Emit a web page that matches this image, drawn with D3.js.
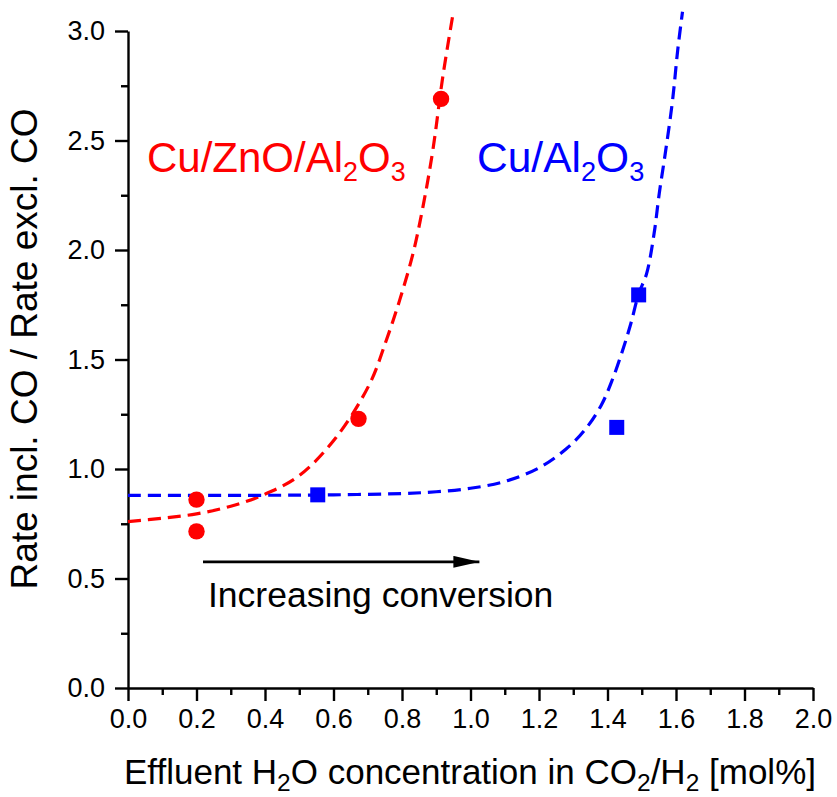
<!DOCTYPE html>
<html>
<head>
<meta charset="utf-8">
<title>Rate ratio vs effluent H2O</title>
<script src="https://d3js.org/d3.v7.min.js"></script>
<style>
  body { margin: 0; background: #fff; }
  text { font-family: Arial, "Liberation Sans", sans-serif; }
</style>
</head>
<body>
<div id="chart"></div>
<script>

const width = 837;
const height = 797;
const margin = {top: 31, right: 24, bottom: 109, left: 128};

// measured points
const cznoX = [0.2, 0.2, 0.673, 0.914];
const cznoY = [0.86, 0.715, 1.229, 2.69];
const caoX = [0.554, 1.427, 1.491];
const caoY = [0.882, 1.19, 1.795];

// dashed fit curves
const cznoFitX = [0.0, 0.1, 0.2, 0.3, 0.4, 0.5, 0.608, 0.706, 0.754, 0.793, 0.832, 0.861, 0.890, 0.919, 0.950];
const cznoFitY = [0.76, 0.775, 0.795, 0.83, 0.885, 0.97, 1.145, 1.39, 1.587, 1.77, 1.983, 2.196, 2.455, 2.79, 3.088];
const caoFitX = [0.0, 0.4, 0.6, 0.8, 0.9, 1.0, 1.1, 1.2, 1.279, 1.332, 1.381, 1.415, 1.444, 1.468, 1.491, 1.514, 1.536, 1.551, 1.570, 1.590, 1.605, 1.619];
const caoFitY = [0.88, 0.88, 0.882, 0.888, 0.896, 0.912, 0.943, 1.005, 1.091, 1.175, 1.289, 1.411, 1.541, 1.663, 1.80, 1.891, 2.075, 2.257, 2.455, 2.684, 2.913, 3.088];

const xTicks = [0.0, 0.2, 0.4, 0.6, 0.8, 1.0, 1.2, 1.4, 1.6, 1.8, 2.0];
const xMinor = [0.1, 0.3, 0.5, 0.7, 0.9, 1.1, 1.3, 1.5, 1.7, 1.9];
const yTicks = [0.0, 0.5, 1.0, 1.5, 2.0, 2.5, 3.0];
const yMinor = [0.25, 0.75, 1.25, 1.75, 2.25, 2.75];

const RED = "#ff0000";
const BLUE = "#0000ff";

var svg = d3.select("#chart").append("svg").attr("width", width).attr("height", height)

var x = d3.scaleLinear().domain([0, 2]).range([margin.left, width - margin.right])
var y = d3.scaleLinear().domain([0, 3]).range([height - margin.bottom, margin.top])

// axes
var xMinorAxis = svg.append("g")
  .attr("transform", "translate(0," + y(0) + ")")
  .call(d3.axisBottom(x).tickValues(xMinor).tickSize(7).tickFormat(""))
var xAxis = svg.append("g")
  .attr("transform", "translate(0," + y(0) + ")")
  .call(d3.axisBottom(x).tickValues(xTicks).tickSize(13).tickSizeOuter(0).tickPadding(8).tickFormat(d3.format(".1f")))
var yMinorAxis = svg.append("g")
  .attr("transform", "translate(" + x(0) + ",0)")
  .call(d3.axisLeft(y).tickValues(yMinor).tickSize(7).tickFormat(""))
var yAxis = svg.append("g")
  .attr("transform", "translate(" + x(0) + ",0)")
  .call(d3.axisLeft(y).tickValues(yTicks).tickSize(13).tickSizeOuter(0).tickPadding(10).tickFormat(d3.format(".1f")))

xMinorAxis.select(".domain").remove()
yMinorAxis.select(".domain").remove()
svg.selectAll(".domain, .tick line").attr("stroke", "#000").attr("stroke-width", 2.4)
svg.selectAll(".tick text").attr("font-size", 27).attr("fill", "#000").attr("font-family", "Arial, 'Liberation Sans', sans-serif")

// fit curves
var line = d3.line().x(d => x(d[0])).y(d => y(d[1])).curve(d3.curveCatmullRom)

svg.append("path")
  .datum(cznoFitX.map((v, i) => [v, cznoFitY[i]]))
  .attr("d", line)
  .attr("fill", "none").attr("stroke", RED).attr("stroke-width", 3.2).attr("stroke-dasharray", "13,7")

svg.append("path")
  .datum(caoFitX.map((v, i) => [v, caoFitY[i]]))
  .attr("d", line)
  .attr("fill", "none").attr("stroke", BLUE).attr("stroke-width", 3.2).attr("stroke-dasharray", "13,7")

// markers
svg.append("g").selectAll("circle")
  .data(cznoX.map((v, i) => [v, cznoY[i]]))
  .enter().append("circle")
  .attr("cx", d => x(d[0])).attr("cy", d => y(d[1])).attr("r", 8.2)
  .attr("fill", RED)

svg.append("g").selectAll("rect")
  .data(caoX.map((v, i) => [v, caoY[i]]))
  .enter().append("rect")
  .attr("x", d => x(d[0]) - 7.5).attr("y", d => y(d[1]) - 7.5)
  .attr("width", 15).attr("height", 15)
  .attr("fill", BLUE)

// arrow
svg.append("defs").append("marker")
  .attr("id", "head").attr("viewBox", "0 0 26 12").attr("refX", 26).attr("refY", 6)
  .attr("markerWidth", 26).attr("markerHeight", 12).attr("markerUnits", "userSpaceOnUse").attr("orient", "auto")
  .append("path").attr("d", "M0,0 L26,6 L0,12 Z").attr("fill", "#000")

svg.append("line")
  .attr("x1", x(0.219)).attr("x2", x(1.026)).attr("y1", y(0.576)).attr("y2", y(0.576))
  .attr("stroke", "#000").attr("stroke-width", 2.6).attr("marker-end", "url(#head)")

svg.append("text").attr("x", 208).attr("y", 607).attr("font-size", 35.5).text("Increasing conversion")

// catalyst labels with subscripts
function chem(t, parts, color) {
  parts.forEach(p => {
    var ts = t.append("tspan").text(p[0])
    if (p[1]) ts.attr("font-size", "64%").attr("dy", 9)
    else if (p[2]) ts.attr("dy", -9)
  })
  t.attr("fill", color)
}

chem(svg.append("text").attr("x", 147).attr("y", 172).attr("font-size", 42),
  [["Cu/ZnO/Al"], ["2", true], ["O", false, true], ["3", true]], RED)
chem(svg.append("text").attr("x", 477).attr("y", 172).attr("font-size", 42.5),
  [["Cu/Al"], ["2", true], ["O", false, true], ["3", true]], BLUE)

// axis titles
var xt = svg.append("text").attr("x", 470).attr("y", 784).attr("font-size", 35).attr("text-anchor", "middle")
xt.append("tspan").text("Effluent H")
xt.append("tspan").text("2").attr("font-size", "70%").attr("dy", 7)
xt.append("tspan").text("O concentration in CO").attr("dy", -7)
xt.append("tspan").text("2").attr("font-size", "70%").attr("dy", 7)
xt.append("tspan").text("/H").attr("dy", -7)
xt.append("tspan").text("2").attr("font-size", "70%").attr("dy", 7)
xt.append("tspan").text(" [mol%]").attr("dy", -7)

svg.append("text")
  .attr("transform", "translate(37,349) rotate(-90)")
  .attr("text-anchor", "middle").attr("font-size", 37)
  .text("Rate incl. CO / Rate excl. CO")

</script>
</body>
</html>
